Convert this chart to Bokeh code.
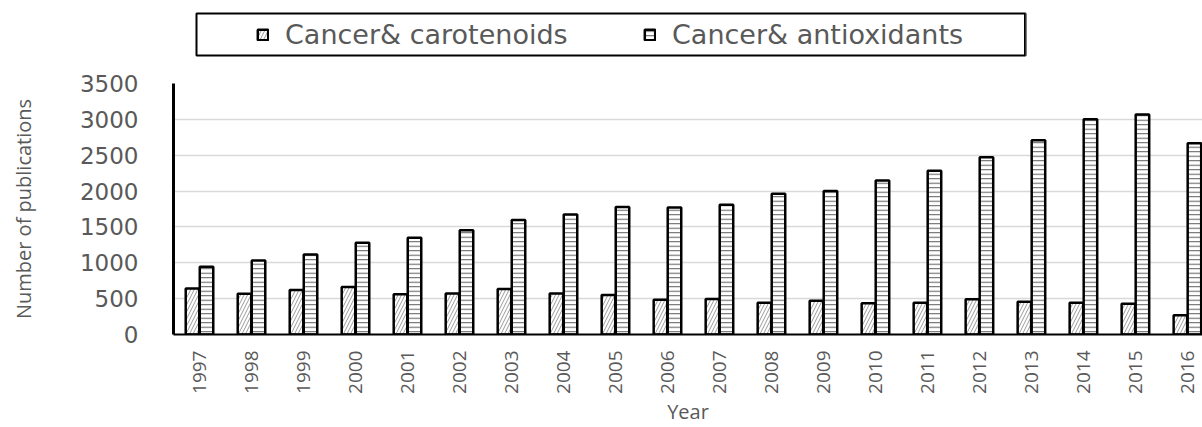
import math
from bokeh.plotting import figure
from bokeh.layouts import column
from bokeh.models import Range1d, FixedTicker, Legend, LegendItem, ColumnDataSource
from bokeh.transform import dodge
from bokeh.embed import file_html
from bokeh.resources import INLINE

years = [1997, 1998, 1999, 2000, 2001, 2002, 2003, 2004, 2005, 2006,
         2007, 2008, 2009, 2010, 2011, 2012, 2013, 2014, 2015, 2016]
carotenoids = [643, 569, 620, 661, 560, 573, 633, 573, 550, 486,
               494, 444, 472, 435, 444, 490, 458, 444, 430, 268]
antioxidants = [944, 1032, 1115, 1278, 1350, 1453, 1597, 1675, 1778, 1772,
                1810, 1962, 2000, 2147, 2282, 2472, 2708, 3000, 3069, 2667]
y_ticks = [0, 500, 1000, 1500, 2000, 2500, 3000, 3500]
series_names = ["Cancer& carotenoids", "Cancer& antioxidants"]

CAR_STYLE = dict(fill_color="white", line_color="black", line_width=2.5,
                 hatch_pattern="/", hatch_color="#9a9a9a", hatch_weight=1, hatch_scale=7)
ANT_STYLE = dict(fill_color="white", line_color="black", line_width=2.5,
                 hatch_pattern="-", hatch_color="#5a5a5a", hatch_weight=1, hatch_scale=4.5)

source = ColumnDataSource(data=dict(year=years, car=carotenoids, ant=antioxidants))

# ---------- legend strip (its frame is the legend box) ----------
lg = figure(width=1202, height=63, output_backend="svg", toolbar_location=None,
            x_range=Range1d(0, 1), y_range=Range1d(0, 1),
            x_axis_location=None, y_axis_location=None,
            min_border_left=196, min_border_right=177, min_border_top=13,
            min_border_bottom=8, background_fill_color="white",
            border_fill_color="white", frame_align=False)
lg.outline_line_color = "black"
lg.outline_line_width = 2
lg.xgrid.visible = False
lg.ygrid.visible = False
# same series, but out of this strip's view: only their legend swatches show
d1 = lg.vbar(x="year", top="car", width=0.26, source=source, **CAR_STYLE)
d2 = lg.vbar(x="year", top="ant", width=0.26, source=source, **ANT_STYLE)
legend = Legend(items=[LegendItem(label=series_names[0], renderers=[d1]),
                       LegendItem(label=series_names[1], renderers=[d2])],
                orientation="horizontal", location=(60, 5), margin=0,
                padding=0, spacing=28, glyph_width=13, glyph_height=13,
                label_standoff=16, label_width=330,
                label_text_font="DejaVu Sans", label_text_font_size="27px",
                label_text_color="#595959",
                border_line_color=None, background_fill_alpha=0)
lg.add_layout(legend, "center")

# ---------- main chart ----------
p = figure(width=1202, height=364, output_backend="svg", toolbar_location=None,
           x_range=Range1d(1996.5, 2016.29), y_range=Range1d(0, 3500),
           min_border_left=173, min_border_right=0, min_border_top=20,
           min_border_bottom=92, background_fill_color="white",
           border_fill_color="white", frame_align=False)
p.outline_line_color = None

p.vbar(x=dodge("year", -0.135, range=p.x_range), top="car", width=0.26,
       source=source, **CAR_STYLE)
p.vbar(x=dodge("year", 0.135, range=p.x_range), top="ant", width=0.26,
       source=source, **ANT_STYLE)

p.xaxis.ticker = FixedTicker(ticks=years)
p.xaxis.major_label_orientation = math.pi / 2
p.xaxis.major_label_text_font = "Open Sans"
p.xaxis.major_label_text_font_size = "19px"
p.xaxis.major_label_text_color = "#595959"
p.xaxis.major_label_standoff = 16
p.xaxis.major_tick_line_color = None
p.xaxis.major_tick_out = 0
p.xaxis.major_tick_in = 0
p.xaxis.minor_tick_line_color = None
p.xaxis.minor_tick_out = 0
p.xaxis.axis_line_color = "black"
p.xaxis.axis_line_width = 2
p.xaxis.axis_label = "Year"
p.xaxis.axis_label_text_font = "Open Sans"
p.xaxis.axis_label_text_font_size = "20px"
p.xaxis.axis_label_text_font_style = "normal"
p.xaxis.axis_label_text_color = "#595959"
p.xaxis.axis_label_standoff = 1

p.yaxis.ticker = FixedTicker(ticks=y_ticks)
p.yaxis.major_label_text_font = "DejaVu Sans"
p.yaxis.major_label_text_font_size = "23px"
p.yaxis.major_label_text_color = "#595959"
p.yaxis.major_label_standoff = 35
p.yaxis.major_tick_line_color = None
p.yaxis.major_tick_out = 0
p.yaxis.major_tick_in = 0
p.yaxis.minor_tick_line_color = None
p.yaxis.minor_tick_out = 0
p.yaxis.axis_line_color = "black"
p.yaxis.axis_line_width = 3
p.yaxis.axis_label = "Number of publications"
p.yaxis.axis_label_text_font = "Open Sans"
p.yaxis.axis_label_text_font_size = "20px"
p.yaxis.axis_label_text_font_style = "normal"
p.yaxis.axis_label_text_color = "#595959"
p.yaxis.axis_label_standoff = 40

p.xgrid.grid_line_color = None
p.ygrid.grid_line_color = "#d9d9d9"
p.ygrid.grid_line_width = 1.5

layout = column(lg, p, spacing=0)
open("out.html", "w").write(file_html(layout, INLINE))
